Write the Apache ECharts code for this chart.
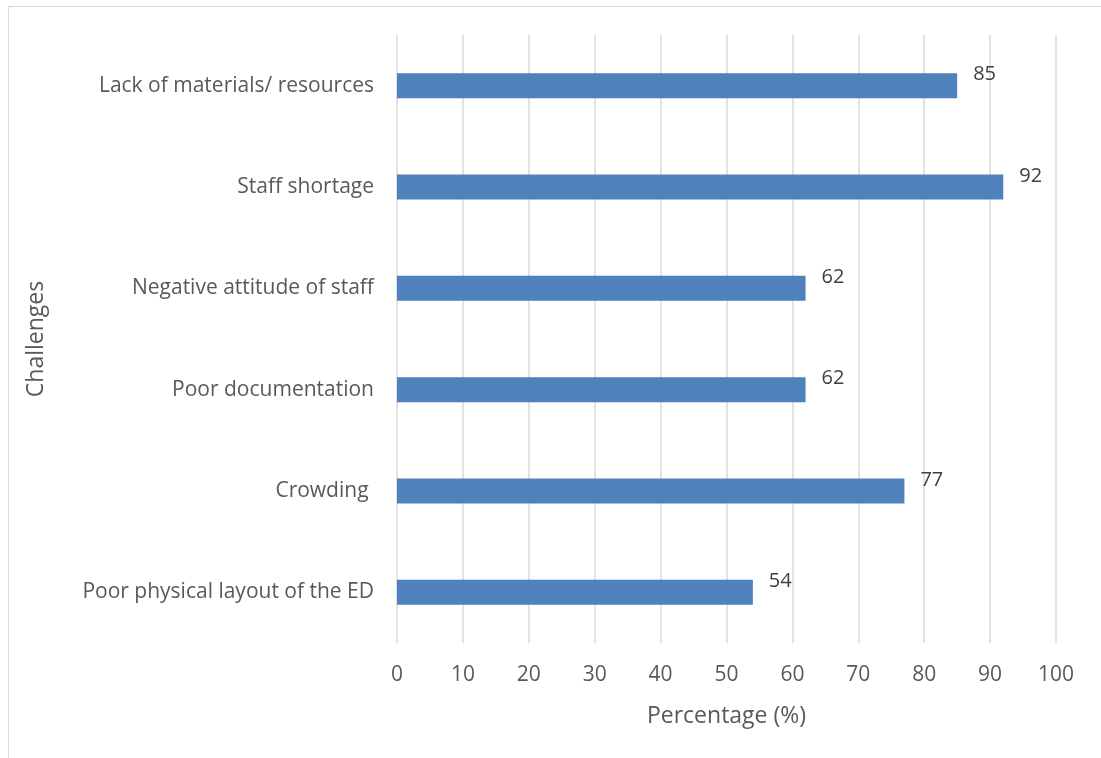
<!DOCTYPE html>
<html>
<head>
<meta charset="utf-8">
<script src="https://cdn.jsdelivr.net/npm/echarts@6/dist/echarts.min.js"></script>
<style>
  html, body { margin: 0; padding: 0; background: #fff; }
  #chart { width: 1101px; height: 758px; }
</style>
</head>
<body>
<div id="chart"></div>
<script>
// categories, top to bottom
var categories = [
    'Lack of materials/ resources',
    'Staff shortage',
    'Negative attitude of staff',
    'Poor documentation',
    'Crowding ',
    'Poor physical layout of the ED'
];
var percentages = [85, 92, 62, 62, 77, 54];

var FONT = '"Open Sans", sans-serif';

var chart = echarts.init(document.getElementById('chart'));
chart.setOption({
    animation: false,
    backgroundColor: '#fff',
    graphic: [{
        type: 'rect',
        shape: { x: 8.5, y: 6.5, width: 1200, height: 1000 },
        style: { fill: 'none', stroke: '#d9d9d9', lineWidth: 1 },
        silent: true
    }],
    grid: { left: 397, right: 45, top: 35, bottom: 115 },
    xAxis: {
        type: 'value',
        min: 0,
        max: 100,
        interval: 10,
        name: 'Percentage (%)',
        nameLocation: 'middle',
        nameGap: 62,
        nameTextStyle: { fontFamily: FONT, fontSize: 23, color: '#595959' },
        axisLine: { show: false },
        axisTick: { show: false },
        axisLabel: { fontFamily: FONT, fontSize: 21, color: '#595959', margin: 22 },
        splitLine: { show: true, lineStyle: { color: '#d9d9d9', width: 1.5 } }
    },
    yAxis: {
        type: 'category',
        inverse: true,
        data: categories,
        name: 'Challenges',
        nameLocation: 'middle',
        nameGap: 349,
        nameRotate: 90,
        nameTextStyle: { fontFamily: FONT, fontSize: 23, color: '#595959' },
        axisLine: { show: false },
        axisTick: { show: false },
        axisLabel: { fontFamily: FONT, fontSize: 21, color: '#595959', margin: 23 },
        splitLine: { show: false }
    },
    series: [{
        type: 'bar',
        data: percentages,
        barWidth: 25,
        itemStyle: { color: '#4f81bd' },
        label: {
            show: true,
            position: 'right',
            offset: [11, -11],
            fontFamily: FONT,
            fontSize: 20,
            color: '#404040'
        }
    }]
});
</script>
</body>
</html>
